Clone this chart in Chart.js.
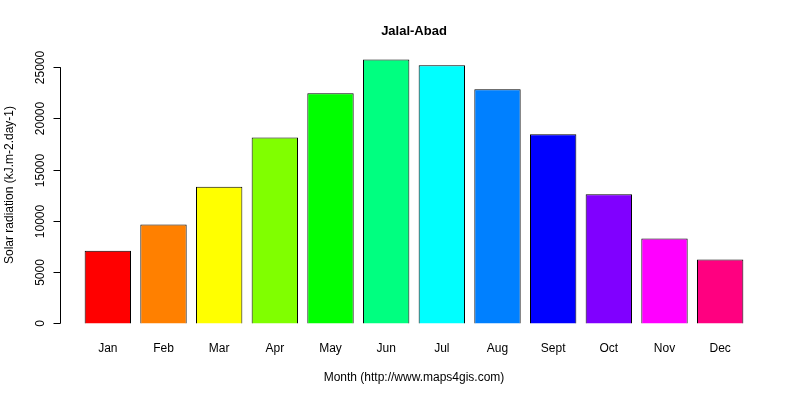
<!DOCTYPE html>
<html><head><meta charset="utf-8">
<script src="https://cdn.jsdelivr.net/npm/chart.js@4"></script>
<style>html,body{margin:0;background:#fff}#w{width:800px;height:400px}</style>
</head><body><div id="w"><canvas id="c"></canvas></div>
<script>
const months = ["Jan","Feb","Mar","Apr","May","Jun","Jul","Aug","Sept","Oct","Nov","Dec"];
const radiation = [7100,9650,13350,18150,22450,25750,25200,22850,18450,12600,8300,6250];
const barColors = ["#FF0000","#FF8000","#FFFF00","#80FF00","#00FF00","#00FF80","#00FFFF","#0080FF","#0000FF","#8000FF","#FF00FF","#FF0080"];
const yTicks = [0,5000,10000,15000,20000,25000];
const F = "Liberation Sans, Arial, sans-serif";
const axes = {
  id:'axes',
  afterDraw(ch){
    const c=ch.ctx, y=ch.scales.y, x=ch.scales.x;
    c.save(); c.strokeStyle='#000'; c.fillStyle='#000'; c.lineWidth=1;
    const ax=60.5;
    c.beginPath(); c.moveTo(ax,y.getPixelForValue(0)); c.lineTo(ax,y.getPixelForValue(25000)); c.stroke();
    c.font='12px '+F; c.textAlign='center'; c.textBaseline='middle';
    yTicks.forEach(v=>{const p=Math.round(y.getPixelForValue(v))+0.5;
      c.beginPath(); c.moveTo(ax,p); c.lineTo(ax-7,p); c.stroke();
      c.save(); c.translate(41,p); c.rotate(-Math.PI/2); c.fillText(String(v),0,0); c.restore();});
    months.forEach((m,i)=>c.fillText(m,x.getPixelForValue(i),349));
    c.fillText("Month (http://www.maps4gis.com)",414,378);
    c.save(); c.translate(10,185); c.rotate(-Math.PI/2); c.fillText("Solar radiation (kJ.m-2.day-1)",0,0); c.restore();
    c.font='bold 13px '+F; c.fillText("Jalal-Abad",414,31);
    c.restore();
  }
};
new Chart(document.getElementById('c'),{
  type:'bar',
  data:{labels:months,datasets:[{data:radiation,backgroundColor:barColors,borderColor:'#000',borderWidth:1,barPercentage:1,categoryPercentage:0.833}]},
  options:{responsive:true,maintainAspectRatio:false,animation:false,
    layout:{padding:{left:80,right:52,top:49,bottom:66}},
    plugins:{legend:{display:false},tooltip:{enabled:false}},
    scales:{x:{display:false},y:{display:false,min:-1030,max:26780}}},
  plugins:[axes]
});
</script></body></html>
